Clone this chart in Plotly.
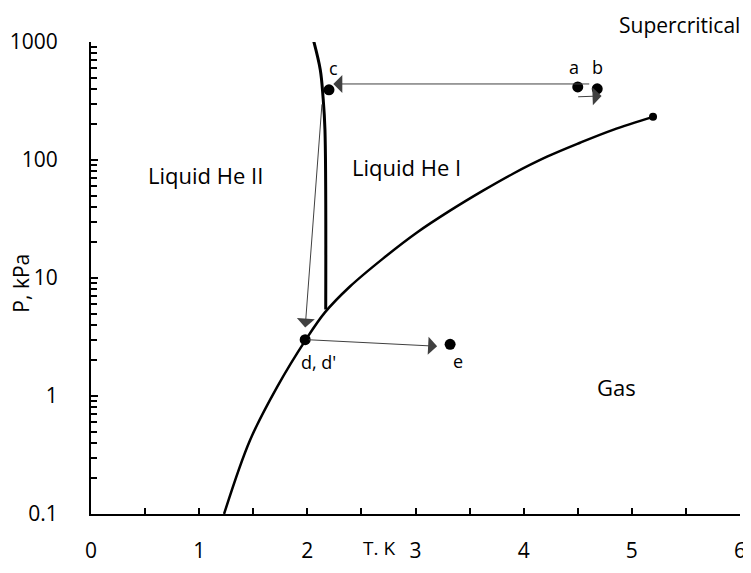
import numpy as np
import plotly.graph_objects as go

# Vaporization (liquid-gas) curve, T in K, P in kPa
vap_T = [1.23, 1.47, 1.72, 1.988, 2.163, 2.394, 2.699, 3.014, 3.319, 3.624, 3.901, 4.216, 4.521, 4.826, 5.196]
vap_P = [0.1, 0.422, 1.19, 3.02, 5.11, 8.47, 14.6, 24.3, 37.2, 55.0, 76.5, 106.6, 140, 180, 232]

# Lambda line
lam_T = [2.055, 2.12, 2.145, 2.163, 2.17]
lam_P = [1050, 580, 343, 180, 5.4]

# State points
pt_names = ["a", "b", "c", "d", "e"]
pt_T = [4.50, 4.68, 2.20, 1.98, 3.32]
pt_P = [416, 401, 393, 3.0, 2.74]

crit_T = [5.196]
crit_P = [232]

# Arrows: (start T, start P, end T, end P)
arr_T0 = [4.62, 2.136, 2.00, 4.49]
arr_P0 = [441, 305, 3.0, 343]
arr_T1 = [2.24, 1.98, 3.20, 4.72]
arr_P1 = [441, 3.8, 2.64, 349]

xticks = [0, 1, 2, 3, 4, 5, 6]
yticks = [0.1, 1, 10, 100, 1000]
ytick_text = ["0.1", "1", "10", "100", "1000"]

FONT = "Open Sans"

fig = go.Figure()
fig.add_trace(go.Scatter(x=vap_T, y=vap_P, mode="lines", line=dict(color="black", width=2.5, shape="spline"),
                         showlegend=False, hoverinfo="skip"))
fig.add_trace(go.Scatter(x=lam_T, y=lam_P, mode="lines", line=dict(color="black", width=3, shape="spline"),
                         showlegend=False, hoverinfo="skip"))
fig.add_trace(go.Scatter(x=pt_T, y=pt_P, mode="markers", marker=dict(color="black", size=11),
                         showlegend=False, text=pt_names))
fig.add_trace(go.Scatter(x=crit_T, y=crit_P, mode="markers", marker=dict(color="black", size=8),
                         showlegend=False))

annotations = []
for t0, p0, t1, p1 in zip(arr_T0, arr_P0, arr_T1, arr_P1):
    annotations.append(dict(x=t1, y=np.log10(p1), ax=t0, ay=np.log10(p0), xref="x", yref="y",
                            axref="x", ayref="y", showarrow=True, arrowhead=1, arrowsize=3,
                            arrowwidth=1, arrowcolor="#404040", text=""))

labels = [
    ("Liquid He II", 1.054, 1.875, 22),
    ("Liquid He I", 2.92, 1.943, 22),
    ("Gas", 4.86, 0.074, 22),
    ("a", 4.465, 2.789, 18),
    ("b", 4.68, 2.789, 18),
    ("c", 2.24, 2.78, 18),
    ("d, d'", 2.10, 0.285, 18),
    ("e", 3.39, 0.294, 18),
]
for txt, x, y, s in labels:
    annotations.append(dict(x=x, y=y, xref="x", yref="y", text=txt, showarrow=False,
                            xanchor="center", yanchor="middle",
                            font=dict(family=FONT, size=s, color="black")))

annotations.append(dict(x=0.9075, y=1.036, xref="paper", yref="paper", text="Supercritical",
                        xanchor="center", yanchor="middle",
                        showarrow=False, font=dict(family=FONT, size=21, color="black")))
annotations.append(dict(x=-0.108, y=0.49, xref="paper", yref="paper", text="P, kPa", textangle=-90,
                        xanchor="center", yanchor="middle",
                        showarrow=False, font=dict(family=FONT, size=21, color="black")))
annotations.append(dict(x=0.444, y=-0.072, xref="paper", yref="paper", text="T. K",
                        xanchor="center", yanchor="middle",
                        showarrow=False, font=dict(family=FONT, size=19, color="black")))

fig.update_layout(
    width=751, height=573,
    margin=dict(l=83, r=19, t=34, b=67),
    paper_bgcolor="white", plot_bgcolor="white",
    font=dict(family=FONT, size=21, color="black"),
    annotations=annotations,
    showlegend=False,
)
fig.update_xaxes(range=[0, 6], tickvals=xticks, showgrid=False, zeroline=False, automargin=False,
                 showline=True, linecolor="black", linewidth=2,
                 ticks="inside", ticklen=6, tickwidth=1.5, tickcolor="black",
                 ticklabelstandoff=17,
                 minor=dict(dtick=0.5, ticks="inside", ticklen=6, tickwidth=1.5, tickcolor="black", showgrid=False))
fig.update_yaxes(type="log", range=[-1, 3], tickvals=yticks, ticktext=ytick_text, showgrid=False, zeroline=False,
                 automargin=False,
                 showline=True, linecolor="black", linewidth=2,
                 ticks="inside", ticklen=7, tickwidth=1.5, tickcolor="black",
                 ticklabelstandoff=27,
                 minor=dict(dtick="D1", ticks="inside", ticklen=6, tickwidth=1.5, tickcolor="black", showgrid=False))

fig.write_html("out.html")
